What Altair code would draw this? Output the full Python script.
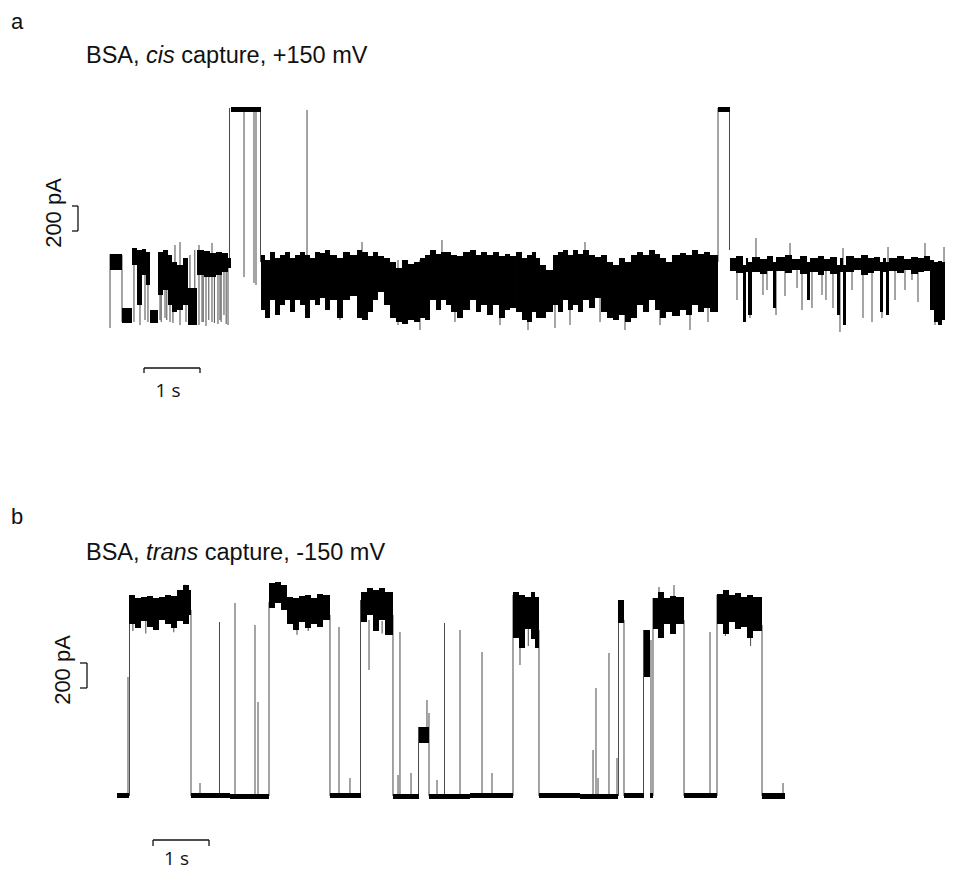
import altair as alt
import pandas as pd

# ---------------- panel a : BSA, cis capture, +150 mV ----------------
# band columns: time edges (s), upper / lower envelope of the dense trace (pA)
a_edges = [0.036, 0.25, 0.429, 0.518, 0.607, 0.679, 0.75, 0.893, 0.982, 1.071,
           1.143, 1.232, 1.339, 1.429, 1.589, 1.714, 1.821, 1.929, 2.036, 2.143,
           2.196,
           2.732, 2.804, 2.893, 2.982, 3.071, 3.161, 3.25, 3.339, 3.429, 3.518,
           3.607, 3.696, 3.786, 3.875, 3.964, 4.089, 4.196, 4.321, 4.446, 4.536,
           4.643, 4.732, 4.821, 4.929, 5.036, 5.143, 5.25, 5.357, 5.464, 5.571,
           5.661, 5.75, 5.857, 5.946, 6.036, 6.125, 6.232, 6.339, 6.464, 6.571,
           6.661, 6.768, 6.875, 6.982, 7.089, 7.179, 7.286, 7.393, 7.482, 7.571,
           7.643, 7.714, 7.821, 7.946, 8.036, 8.125, 8.214, 8.304, 8.393, 8.482,
           8.589, 8.696, 8.804, 8.911, 9.018, 9.125, 9.232, 9.339, 9.446, 9.554,
           9.661, 9.768, 9.857, 9.964, 10.071, 10.214, 10.321, 10.429, 10.536, 10.643,
           10.75, 10.893,
           11.107,
           11.214, 11.339, 11.393, 11.429, 11.5, 11.643, 11.768, 11.875, 11.929, 12.089,
           12.214, 12.357, 12.482, 12.536, 12.679, 12.786, 12.893, 13.018, 13.071, 13.125,
           13.179, 13.321, 13.446, 13.571, 13.679, 13.786, 13.839, 13.893, 13.946, 14.089,
           14.214, 14.339, 14.464, 14.571, 14.679, 14.75, 14.821, 14.893, 14.982, 15.036]
a_hi = [528, 96, 576, 560, 568, 544, 80, 544, 560, 520,
        464, 440, 496, 256, 560, 552, 536, 544, 536, 496,
        1704,
        520, 480, 544, 496, 520, 544, 496, 520, 544, 520,
        496, 544, 536, 560, 520, 496, 544, 520, 560, 544,
        512, 544, 512, 496, 464, 416, 480, 448, 464, 496,
        520, 560, 528, 544, 544, 520, 512, 544, 560, 520,
        544, 520, 544, 512, 528, 512, 544, 496, 520, 544,
        496, 440, 400, 520, 544, 560, 520, 560, 528, 560,
        520, 504, 520, 464, 440, 496, 464, 520, 544, 520,
        560, 528, 496, 464, 520, 536, 520, 560, 528, 544,
        520,
        1704,
        496, 512, 440, 496, 464, 504, 488, 512, 464, 504,
        520, 488, 512, 464, 496, 512, 488, 504, 440, 496,
        440, 512, 496, 520, 496, 504, 464, 496, 464, 496,
        512, 488, 504, 496, 512, 480, 464, 472, 464, 496]
a_lo = [400, -24, 440, 120, 360, 280, -24, 200, 240, 120,
        64, 80, 120, -40, 360, 344, 344, 360, 384, 416,
        1664,
        80, 16, 160, 40, 120, 160, 64, 160, 120, 16,
        160, 120, 176, 80, 160, 16, 160, 192, 16, 0,
        64, 160, 224, 120, 16, -16, -32, 0, -16, 16,
        0, 160, 80, 160, 120, 64, 16, 80, 160, 64,
        120, 40, 120, 16, 80, 96, 64, 0, -16, 64,
        16, 16, 64, 120, 64, 160, 80, 120, 64, 160,
        96, 176, 64, 16, 0, 40, -16, 16, 120, 64,
        160, 80, 16, 64, 32, 80, 40, 120, 64, 96,
        64,
        1664,
        392, 376, -16, 384, 40, 384, 368, 392, 96, 392,
        376, 400, 368, 160, 384, 360, 392, 368, 40, 384,
        -40, 384, 400, 360, 376, 392, 64, 384, 40, 392,
        376, 400, 368, 384, 392, 80, -16, -40, 0, 376]
# single excursions / transitions (time s, from pA, to pA)
a_spike_t = [0.036, 0.25, 0.464, 0.571, 0.661, 0.714, 0.929, 1.018, 1.107, 1.196,
             1.286, 1.393, 1.464, 1.625, 1.679, 1.75, 1.857, 1.964, 2.0, 2.071,
             2.143,
             2.17, 2.429, 2.607, 2.643, 2.723, 3.554, 4.143, 4.536, 5.179, 5.571,
             5.964, 6.196, 7.0, 7.5, 7.982, 8.25, 8.518, 8.786, 9.232, 9.857,
             10.393, 10.714, 10.893, 11.098, 11.375, 11.464, 11.571, 11.696, 11.929, 12.179,
             12.304, 12.571, 12.75, 12.946, 13.071, 13.125, 13.482, 13.643, 13.821, 13.929,
             14.464, 14.589, 14.768, 14.929,
             11.232, 11.768, 12.089, 12.393, 12.821, 13.286, 14.054, 14.232, 14.357,
             0.95, 1.05, 1.16, 1.55, 1.70, 1.80, 1.90, 2.02, 2.11]
a_spike_hi = [528, 520, 560, 560, 568, 544, 544, 560, 520, 600,
              624, 480, 520, 600, 560, 552, 616, 544, 536, 536,
              496,
              1696, 1696, 1696, 1696, 1696, 1680, 464, 624, 480, 480,
              640, 496, 496, 480, 464, 496, 624, 464, 464, 480,
              496, 464, 1696, 1696, 440, 440, 656, 400, 400, 616,
              400, 400, 400, 400, 400, 576, 400, 400, 400, 584,
              400, 616, 384, 584,
              400, 400, 400, 400, 400, 400, 400, 400, 400,
              544, 560, 464, 560, 560, 552, 536, 544, 536]
a_spike_lo = [-64, -16, -16, -40, 0, -16, 0, 16, -16, 64,
              -40, -16, -40, -40, -16, -48, -16, -32, 0, 40,
              -40,
              464, 344, 296, 280, 464, 464, 0, 464, -40, -80,
              464, -16, -40, -80, -64, -40, 464, -16, -80, -40,
              -80, -16, 464, 560, -16, 16, 440, 200, 40, 464,
              256, 96, 200, 96, -96, 440, 16, -16, 16, 464,
              144, 464, -40, 464,
              160, 240, 192, 80, 160, 240, 160, 240, 320,
              -16, 0, -24, 256, -16, 0, -24, -16, -32]

# ---------------- panel b : BSA, trans capture, -150 mV ----------------
b_edges = [0.036, 0.25, 0.357, 0.464, 0.571, 0.679, 0.786, 0.893, 1.0, 1.107,
           1.214, 1.321, 1.357, 2.054, 2.75, 2.857, 2.964, 3.071, 3.179, 3.286,
           3.393, 3.5, 3.607, 3.714, 3.839, 4.393, 4.5, 4.607, 4.714, 4.821,
           4.964, 5.429, 5.607, 6.339, 7.107, 7.214, 7.321, 7.429, 7.5, 7.571,
           8.304, 8.982, 9.089, 9.446, 9.554, 9.607, 9.696, 9.804, 9.911, 10.018,
           10.161, 10.75, 10.857, 10.964, 11.071, 11.179, 11.286, 11.393, 11.554, 11.964]
b_hi = [24, 1608, 1584, 1592, 1600, 1584, 1592, 1608, 1600, 1648,
        1688, 1648, 24, 16, 1704, 1712, 1688, 1592, 1584, 1600,
        1608, 1584, 1616, 1608, 24, 1632, 1664, 1648, 1664, 1632,
        16, 552, 16, 24, 1632, 1608, 1592, 1632, 1592, 24,
        16, 1568, 24, 1328, 24, 1584, 1632, 1584, 1600, 1592,
        24, 1616, 1648, 1608, 1624, 1592, 1608, 1592, 24]
b_lo = [-16, 1376, 1344, 1400, 1352, 1328, 1408, 1376, 1344, 1400,
        1376, 1448, -16, -24, 1504, 1544, 1488, 1376, 1328, 1392,
        1344, 1376, 1352, 1408, -16, 1392, 1448, 1320, 1408, 1288,
        -24, 424, -24, -16, 1264, 1184, 1336, 1256, 1184, -16,
        -24, 1384, -16, 952, -16, 1336, 1264, 1376, 1296, 1376,
        -16, 1376, 1296, 1392, 1336, 1352, 1264, 1320, -24]
b_spike_t = [0.232, 0.259, 1.357, 1.518, 1.866, 2.143, 2.5, 2.554, 2.75, 3.839,
             4.0, 4.196, 4.384, 4.536, 4.964, 5.054, 5.089, 5.286, 5.42, 5.571,
             5.607, 5.75, 5.884, 6.161, 6.554, 6.732, 7.107, 7.232, 7.571, 8.536,
             8.589, 8.625, 8.821, 8.964, 8.991, 9.089, 9.438, 9.571, 9.607, 9.714,
             9.982, 10.161, 10.625, 10.75, 11.554, 11.929,
             0.32, 0.55, 0.75, 1.05, 1.25, 3.25, 3.45, 4.77, 7.38, 10.9, 11.35]
b_spike_hi = [952, 1568, 1488, 104, 1392, 1544, 1368, 752, 1552, 1448,
              1352, 144, 1568, 1408, 1448, 168, 1312, 184, 552, 768,
              664, 128, 1384, 1328, 1152, 184, 1608, 1248, 1328, 368,
              864, 144, 1144, 304, 1568, 1408, 1328, 1248, 1584, 1672,
              1688, 1408, 1312, 1608, 1368, 104,
              1400, 1400, 1400, 1400, 1690, 1400, 1400, 1400, 1340, 1400, 1300]
b_spike_lo = [0, 0, 0, 0, 0, 0, 0, 0, 0, 0,
              0, 0, 0, 1008, 0, 0, 0, 0, 0, 528,
              0, 0, 0, 0, 0, 0, 0, 1048, 0, 0,
              0, 0, 0, 0, 0, 0, 0, 0, 0, 1568,
              1568, 0, 0, 0, 0, 0,
              1320, 1300, 1330, 1310, 1600, 1290, 1320, 1300, 1200, 1280, 1200]

# ---------------- layout ----------------
W = 937
HA, HB = 430, 435
A_XDOM, A_YDOM = [-1.7857, 14.9464], [-944, 2496]
B_XDOM, B_YDOM = [-1.9107, 14.8214], [-616, 2864]
TITLE_FONT = "Liberation Sans"
SCALE_FONT = "Open Sans"
INK = "#111111"


def text(s, x, y, size, font=TITLE_FONT, style="normal", angle=0, align="left"):
    return alt.Chart(pd.DataFrame({"k": [0]})).mark_text(
        text=s, font=font, fontSize=size, fontStyle=style, angle=angle,
        align=align, baseline="alphabetic", color=INK,
    ).encode(x=alt.value(x), y=alt.value(y))


def panel(edges, hi, lo, st, sh, sl, xdom, ydom, H, sbar, pbar, labels):
    xs = alt.Scale(domain=xdom, nice=False, zero=False)
    ys = alt.Scale(domain=ydom, nice=False, zero=False)
    band = pd.DataFrame({"t0": edges[:-1], "t1": edges[1:], "hi": hi, "lo": lo})
    spk = pd.DataFrame({"t": st, "hi": sh, "lo": sl})
    spikes = alt.Chart(spk).mark_rule(color="#4a4a4a", strokeWidth=1, clip=True).encode(
        x=alt.X("t:Q", scale=xs, axis=None),
        y=alt.Y("hi:Q", scale=ys, axis=None), y2="lo:Q")
    bands = alt.Chart(band).mark_rect(color="black", clip=True).encode(
        x=alt.X("t0:Q", scale=xs, axis=None), x2="t1:Q",
        y=alt.Y("hi:Q", scale=ys, axis=None), y2="lo:Q")
    # 1 s scale bar
    t0, v, tick = sbar
    sb = pd.DataFrame({"t0": [t0], "t1": [t0 + 1.0], "v": [v]})
    sbt = pd.DataFrame({"t": [t0, t0 + 1.0], "v0": [v, v], "v1": [v - tick, v - tick]})
    s1 = alt.Chart(sb).mark_rule(color=INK, strokeWidth=1.3).encode(
        x=alt.X("t0:Q", scale=xs, axis=None), x2="t1:Q", y=alt.Y("v:Q", scale=ys, axis=None))
    s2 = alt.Chart(sbt).mark_rule(color=INK, strokeWidth=1.3).encode(
        x=alt.X("t:Q", scale=xs, axis=None), y=alt.Y("v0:Q", scale=ys, axis=None), y2="v1:Q")
    # 200 pA bracket
    tp, vp, tl = pbar
    pb = pd.DataFrame({"t": [tp], "v0": [vp], "v1": [vp + 200]})
    pbt = pd.DataFrame({"t0": [tp - tl, tp - tl], "t1": [tp, tp], "v": [vp, vp + 200]})
    p1 = alt.Chart(pb).mark_rule(color=INK, strokeWidth=1.3).encode(
        x=alt.X("t:Q", scale=xs, axis=None), y=alt.Y("v0:Q", scale=ys, axis=None), y2="v1:Q")
    p2 = alt.Chart(pbt).mark_rule(color=INK, strokeWidth=1.3).encode(
        x=alt.X("t0:Q", scale=xs, axis=None), x2="t1:Q", y=alt.Y("v:Q", scale=ys, axis=None))
    return alt.layer(spikes, bands, s1, s2, p1, p2, *labels).properties(width=W, height=H)


labels_a = [
    text("a", 3, 20.5, 22),
    text("BSA,", 78, 55, 23.5),
    text("cis", 138.1, 55, 23.5, style="italic"),
    text("capture, +150 mV", 173.3, 55, 23.5),
    text("200 pA", 53, 205, 22, angle=270, align="center"),
    text("1 s", 160, 389, 19, font=SCALE_FONT, align="center"),
]
labels_b = [
    text("b", 3, 85.5, 22),
    text("BSA,", 78, 122, 23.5),
    text("trans", 138.1, 122, 23.5, style="italic"),
    text("capture, -150 mV", 196.8, 122, 23.5),
    text("200 pA", 62, 232, 22, angle=270, align="center"),
    text("1 s", 168.5, 427, 19, font=SCALE_FONT, align="center"),
]

pa = panel(a_edges, a_hi, a_lo, a_spike_t, a_spike_hi, a_spike_lo,
           A_XDOM, A_YDOM, HA, (0.643, -384, 40), (-0.536, 712, 0.107), labels_a)
pb_ = panel(b_edges, b_hi, b_lo, b_spike_t, b_spike_hi, b_spike_lo,
            B_XDOM, B_YDOM, HB, (0.679, -352, 48), (-0.5, 864, 0.125), labels_b)

chart = alt.vconcat(pa, pb_, spacing=0, bounds="flush").properties(
    padding=0, background="white"
).configure_view(stroke=None)

chart.save("out.html", embed_options={"renderer": "svg", "actions": False})
